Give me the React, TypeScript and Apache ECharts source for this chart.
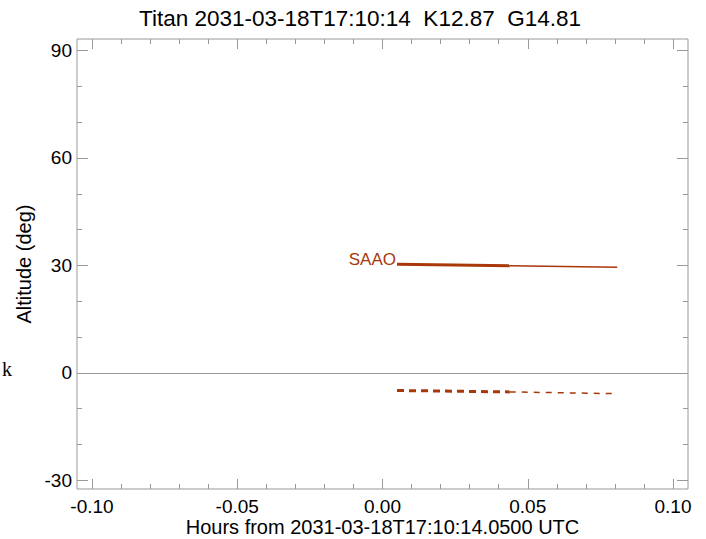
import React, { useEffect, useRef } from "react";
import * as echarts from "echarts";

// Data
const hours = [0.005, 0.0438, 0.0808];
const altitudeSAAO = [30.3, 29.9, 29.5];
const altitudeDashed = [-4.9, -5.3, -5.8];

const xMajorTicks = [-0.1, -0.05, 0, 0.05, 0.1];
const xMinorTicks = [-0.09, -0.08, -0.07, -0.06, -0.04, -0.03, -0.02, -0.01, 0.01, 0.02, 0.03, 0.04, 0.06, 0.07, 0.08, 0.09];
const yMajorTicks = [-30, 0, 30, 60, 90];
const yMinorTicks = [-20, -10, 10, 20, 40, 50, 70, 80];

const X_MIN = -0.10516;
const X_MAX = 0.10516;
const Y_MIN = -32.4;
const Y_MAX = 93.2;

const LINE_COLOR = "#a8380a";
const FRAME = "#999999";
const FONT = "Liberation Sans";

function pts(ys: number[], i0: number, i1: number) {
  const out: number[][] = [];
  for (let i = i0; i <= i1; i++) out.push([hours[i], ys[i]]);
  return out;
}

export default function App() {
  const ref = useRef<HTMLDivElement>(null);
  useEffect(() => {
    if (!ref.current) return;
    const chart = echarts.init(ref.current, undefined, { renderer: "svg" });

    const xAx = (position: string, values: number[], len: number, labels: boolean, withName: boolean) => ({
      type: "value",
      position,
      min: X_MIN,
      max: X_MAX,
      axisLine: { show: false, onZero: false },
      splitLine: { show: false },
      axisTick: { show: true, inside: true, length: len, customValues: values, lineStyle: { color: FRAME, width: 1 } },
      axisLabel: labels
        ? { show: true, customValues: values, formatter: (v: number) => v.toFixed(2), fontSize: 19, lineHeight: 19, fontFamily: FONT, color: "#000", margin: 8 }
        : { show: false },
      name: withName ? "Hours from 2031-03-18T17:10:14.0500 UTC" : "",
      nameLocation: "middle",
      nameGap: 28,
      nameMoveOverlap: false,
      nameTextStyle: { fontSize: 20, lineHeight: 20, fontFamily: FONT, color: "#000" },
    });
    const yAx = (position: string, values: number[], len: number, labels: boolean, withName: boolean) => ({
      type: "value",
      position,
      min: Y_MIN,
      max: Y_MAX,
      axisLine: { show: false, onZero: false },
      splitLine: { show: false },
      axisTick: { show: true, inside: true, length: len, customValues: values, lineStyle: { color: FRAME, width: 1 } },
      axisLabel: labels
        ? { show: true, customValues: values, formatter: (v: number) => String(Math.round(v)), fontSize: 19, fontFamily: FONT, color: "#000", margin: 5 }
        : { show: false },
      name: withName ? "Altitude (deg)" : "",
      nameLocation: "middle",
      nameRotate: 90,
      nameGap: 43,
      nameMoveOverlap: false,
      nameTextStyle: { fontSize: 20, fontFamily: FONT, color: "#000" },
    });

    chart.setOption({
      animation: false,
      backgroundColor: "#ffffff",
      grid: {
        left: 77, right: 18, top: 39, bottom: 50,
        show: true, borderColor: FRAME, borderWidth: 1, backgroundColor: "transparent",
        containLabel: false, outerBoundsMode: "none",
      },
      xAxis: [
        xAx("bottom", xMajorTicks, 10, true, true),
        xAx("top", xMajorTicks, 10, false, false),
        xAx("bottom", xMinorTicks, 5, false, false),
        xAx("top", xMinorTicks, 5, false, false),
      ],
      yAxis: [
        yAx("left", yMajorTicks, 11, true, true),
        yAx("right", yMajorTicks, 11, false, false),
        yAx("left", yMinorTicks, 5, false, false),
        yAx("right", yMinorTicks, 5, false, false),
      ],
      graphic: [
        {
          type: "text", x: 360, y: 18,
          style: { text: "Titan 2031-03-18T17:10:14  K12.87  G14.81", font: '22.5px "Liberation Sans"', fill: "#000", align: "center", verticalAlign: "middle" },
        },
        { type: "text", left: 2, top: 359, style: { text: "k", font: '20px "Liberation Serif"', fill: "#000" } },
      ],
      series: [
        {
          type: "line",
          xAxisIndex: 0,
          yAxisIndex: 0,
          showSymbol: true,
          symbolSize: 0,
          data: pts(altitudeSAAO, 0, 1).map((p, i) =>
            i === 0
              ? { value: p, label: { show: true, position: "left", distance: 1, offset: [0, -5], formatter: "SAAO", color: LINE_COLOR, fontSize: 17, fontFamily: FONT } }
              : { value: p }
          ),
          lineStyle: { color: LINE_COLOR, width: 3 },
          itemStyle: { color: LINE_COLOR },
          label: { show: false },
          markLine: {
            silent: true,
            symbol: "none",
            label: { show: false },
            lineStyle: { color: FRAME, width: 1, type: "solid" },
            data: [{ yAxis: 0 }],
          },
        },
        {
          type: "line",
          xAxisIndex: 0,
          yAxisIndex: 0,
          showSymbol: false,
          data: pts(altitudeSAAO, 1, 2),
          lineStyle: { color: LINE_COLOR, width: 1.5 },
        },
        {
          type: "line",
          xAxisIndex: 0,
          yAxisIndex: 0,
          showSymbol: false,
          data: pts(altitudeDashed, 0, 1),
          lineStyle: { color: LINE_COLOR, width: 3, type: [7, 5] },
        },
        {
          type: "line",
          xAxisIndex: 0,
          yAxisIndex: 0,
          showSymbol: false,
          data: pts(altitudeDashed, 1, 2),
          lineStyle: { color: LINE_COLOR, width: 1.5, type: [6, 6] },
        },
      ],
    });
    return () => chart.dispose();
  }, []);
  return <div ref={ref} style={{ position: "fixed", left: 0, top: 0, width: 706, height: 539 }} />;
}
